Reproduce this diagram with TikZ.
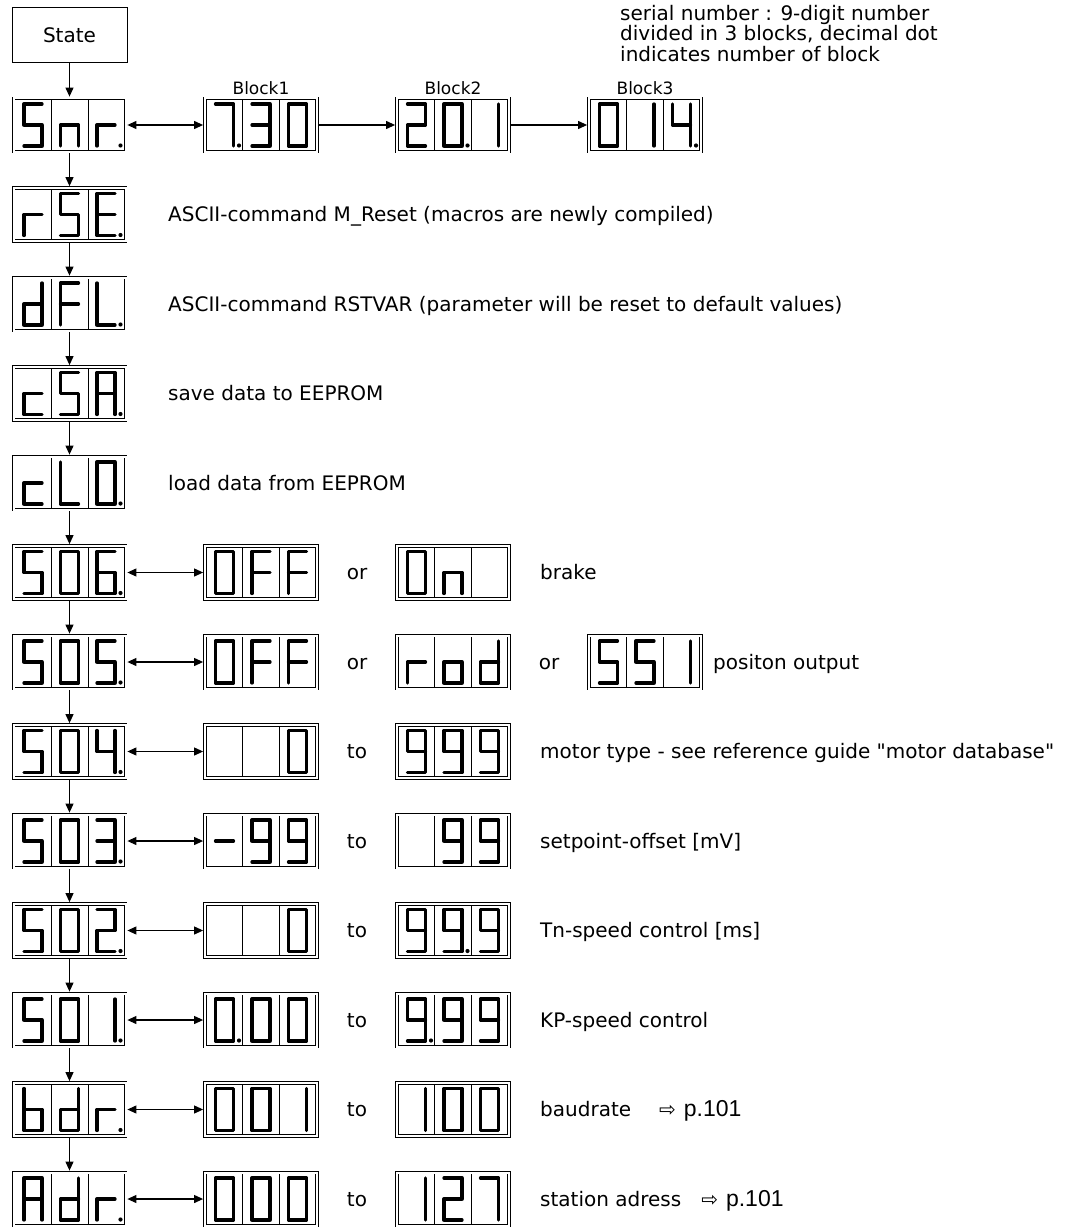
\documentclass[tikz,border=0pt]{standalone}
\usepackage{fontspec}
\setmainfont{DejaVu Sans}
\newfontfamily\reffont{Liberation Sans}
\usetikzlibrary{arrows.meta, positioning, calc}

% digit geometry (1 unit = 1pt, y grows downwards)
\def\dw{9}
\def\dh{21}
\def\cellx{36.5}
\def\divx{18.5}
\def\innerh{24.7}
\def\dotx{14.5}
\def\doty{20.5}

% seven-segment glyphs, drawn round the cell centre
\newcommand{\glNone}{}
\newcommand{\glZero}{\draw[seg] (-\dw,-\dh) rectangle (\dw,\dh);}
\newcommand{\glOne}{\draw[seg] (\dw,-\dh) -- (\dw,\dh);}
\newcommand{\glTwo}{\draw[seg] (-\dw,-\dh) -- (\dw,-\dh) -- (\dw,0) -- (-\dw,0) -- (-\dw,\dh) -- (\dw,\dh);}
\newcommand{\glThree}{\draw[seg] (-\dw,-\dh) -- (\dw,-\dh) -- (\dw,\dh) -- (-\dw,\dh) (-\dw,0) -- (\dw,0);}
\newcommand{\glFour}{\draw[seg] (-\dw,-\dh) -- (-\dw,0) -- (\dw,0) (\dw,-\dh) -- (\dw,\dh);}
\newcommand{\glFive}{\draw[seg] (\dw,-\dh) -- (-\dw,-\dh) -- (-\dw,0) -- (\dw,0) -- (\dw,\dh) -- (-\dw,\dh);}
\newcommand{\glSix}{\draw[seg] (\dw,-\dh) -- (-\dw,-\dh) -- (-\dw,\dh) -- (\dw,\dh) -- (\dw,0) -- (-\dw,0);}
\newcommand{\glSeven}{\draw[seg] (-\dw,-\dh) -- (\dw,-\dh) -- (\dw,\dh);}
\newcommand{\glNine}{\draw[seg] (\dw,0) -- (-\dw,0) -- (-\dw,-\dh) -- (\dw,-\dh) -- (\dw,\dh) -- (-\dw,\dh);}
\newcommand{\glA}{\draw[seg] (-\dw,\dh) -- (-\dw,-\dh) -- (\dw,-\dh) -- (\dw,\dh) (-\dw,0) -- (\dw,0);}
\newcommand{\glb}{\draw[seg] (-\dw,-\dh) -- (-\dw,\dh) -- (\dw,\dh) -- (\dw,0) -- (-\dw,0);}
\newcommand{\glc}{\draw[seg] (\dw,0) -- (-\dw,0) -- (-\dw,\dh) -- (\dw,\dh);}
\newcommand{\gld}{\draw[seg] (\dw,-\dh) -- (\dw,\dh) -- (-\dw,\dh) -- (-\dw,0) -- (\dw,0);}
\newcommand{\glE}{\draw[seg] (\dw,-\dh) -- (-\dw,-\dh) -- (-\dw,\dh) -- (\dw,\dh) (-\dw,0) -- (\dw,0);}
\newcommand{\glF}{\draw[seg] (\dw,-\dh) -- (-\dw,-\dh) -- (-\dw,\dh) (-\dw,0) -- (\dw,0);}
\newcommand{\glL}{\draw[seg] (-\dw,-\dh) -- (-\dw,\dh) -- (\dw,\dh);}
\newcommand{\gln}{\draw[seg] (-\dw,\dh) -- (-\dw,0) -- (\dw,0) -- (\dw,\dh);}
\newcommand{\glo}{\draw[seg] (-\dw,0) rectangle (\dw,\dh);}
\newcommand{\glr}{\draw[seg] (-\dw,\dh) -- (-\dw,0) -- (\dw,0);}
\newcommand{\glDash}{\draw[seg] (-\dw,0) -- (\dw,0);}

% three-digit display: name, centre, glyphs, cell with decimal dot (0 = none)
\newcommand{\panel}[6]{%
  \node[panelbox] (#1) at (#2) {};
  \begin{scope}[shift={(#2)}]
    \draw[cellline] (-\divx,-\innerh) -- (-\divx,\innerh)
                    (\divx,-\innerh) -- (\divx,\innerh);
    \begin{scope}[shift={(-\cellx,0)}] #3 \end{scope}
    #4
    \begin{scope}[shift={(\cellx,0)}] #5 \end{scope}
    \ifnum#6>0 \fill ({\cellx*(#6-2)+\dotx},\doty) circle (2.1); \fi
  \end{scope}%
}

\begin{document}
\begin{tikzpicture}[x=1pt, y=-1pt,
    font=\fontsize{20}{24}\selectfont,
    panelbox/.style={draw, double, double distance=2pt, line width=0.9pt,
                     minimum width=112pt, minimum height=53pt,
                     inner sep=0pt, outer sep=1.9pt},
    statebox/.style={draw, line width=1pt, minimum width=115pt,
                     minimum height=55pt, inner sep=0pt},
    seg/.style={line width=3.3pt, line cap=round, line join=round},
    cellline/.style={line width=0.9pt},
    flow/.style={-{Triangle[length=9pt, width=8pt]}, line width=1.1pt},
    link/.style={{Triangle[length=9pt, width=8pt]}-{Triangle[length=9pt, width=8pt]},
                 line width=1.1pt},
    desc/.style={anchor=base west, inner sep=0pt, yshift=-7pt},
    word/.style={anchor=base, inner sep=0pt, yshift=-7pt},
    blocklabel/.style={inner sep=1.5pt, font=\fontsize{17}{20}\selectfont}]

    \useasboundingbox (0,0) rectangle (1091,1228);

    % ==========================================================
    % 1. STATE BOX AND NOTE
    % ==========================================================
    \node[statebox] (state) at (69.5,35.5) {State};
    \node[anchor=north west, align=left, inner sep=0pt,
          font=\fontsize{20}{20.5}\selectfont] (note) at (620,5)
        {serial number : 9-digit number\\
         divided in 3 blocks, decimal dot\\
         indicates number of block};

    % ==========================================================
    % 2. LEFT COLUMN (menu entries)
    % ==========================================================
    \panel{snr}{69.5,125}{\glFive}{\gln}{\glr}{3}
    \panel{rse}{69.5,214.5}{\glr}{\glFive}{\glE}{3}
    \panel{dfl}{69.5,304}{\gld}{\glF}{\glL}{3}
    \panel{csa}{69.5,393.5}{\glc}{\glFive}{\glA}{3}
    \panel{clo}{69.5,483}{\glc}{\glL}{\glZero}{3}
    \panel{p506}{69.5,572.5}{\glFive}{\glZero}{\glSix}{3}
    \panel{p505}{69.5,662}{\glFive}{\glZero}{\glFive}{3}
    \panel{p504}{69.5,751.5}{\glFive}{\glZero}{\glFour}{3}
    \panel{p503}{69.5,841}{\glFive}{\glZero}{\glThree}{3}
    \panel{p502}{69.5,930.5}{\glFive}{\glZero}{\glTwo}{3}
    \panel{p501}{69.5,1020}{\glFive}{\glZero}{\glOne}{3}
    \panel{bdr}{69.5,1109.5}{\glb}{\gld}{\glr}{3}
    \panel{adr}{69.5,1199}{\glA}{\gld}{\glr}{3}

    % ==========================================================
    % 3. VALUE DISPLAYS
    % ==========================================================
    % serial number blocks
    \panel{blk1}{261,125}{\glSeven}{\glThree}{\glZero}{1}
    \panel{blk2}{453,125}{\glTwo}{\glZero}{\glOne}{2}
    \panel{blk3}{645,125}{\glZero}{\glOne}{\glFour}{3}
    \node[blocklabel, above=0pt of blk1] {Block1};
    \node[blocklabel, above=0pt of blk2] {Block2};
    \node[blocklabel, above=0pt of blk3] {Block3};

    % brake
    \panel{off6}{261,572.5}{\glZero}{\glF}{\glF}{0}
    \panel{on6}{453,572.5}{\glZero}{\gln}{\glNone}{0}
    % position output
    \panel{off5}{261,662}{\glZero}{\glF}{\glF}{0}
    \panel{rod5}{453,662}{\glr}{\glo}{\gld}{0}
    \panel{ssi5}{645,662}{\glFive}{\glFive}{\glOne}{0}
    % motor type
    \panel{min4}{261,751.5}{\glNone}{\glNone}{\glZero}{0}
    \panel{max4}{453,751.5}{\glNine}{\glNine}{\glNine}{0}
    % setpoint offset
    \panel{min3}{261,841}{\glDash}{\glNine}{\glNine}{0}
    \panel{max3}{453,841}{\glNone}{\glNine}{\glNine}{0}
    % Tn
    \panel{min2}{261,930.5}{\glNone}{\glNone}{\glZero}{0}
    \panel{max2}{453,930.5}{\glNine}{\glNine}{\glNine}{2}
    % KP
    \panel{min1}{261,1020}{\glZero}{\glZero}{\glZero}{1}
    \panel{max1}{453,1020}{\glNine}{\glNine}{\glNine}{1}
    % baudrate
    \panel{minb}{261,1109.5}{\glZero}{\glZero}{\glOne}{0}
    \panel{maxb}{453,1109.5}{\glOne}{\glZero}{\glZero}{0}
    % station address
    \panel{mina}{261,1199}{\glZero}{\glZero}{\glZero}{0}
    \panel{maxa}{453,1199}{\glOne}{\glTwo}{\glSeven}{0}

    % ==========================================================
    % 4. CONNECTORS
    % ==========================================================
    \draw[flow] (state) -- (snr);
    \draw[flow] (snr) -- (rse);
    \draw[flow] (rse) -- (dfl);
    \draw[flow] (dfl) -- (csa);
    \draw[flow] (csa) -- (clo);
    \draw[flow] (clo) -- (p506);
    \draw[flow] (p506) -- (p505);
    \draw[flow] (p505) -- (p504);
    \draw[flow] (p504) -- (p503);
    \draw[flow] (p503) -- (p502);
    \draw[flow] (p502) -- (p501);
    \draw[flow] (p501) -- (bdr);
    \draw[flow] (bdr) -- (adr);

    \draw[link] (snr) -- (blk1);
    \draw[flow] (blk1) -- (blk2);
    \draw[flow] (blk2) -- (blk3);
    \draw[link] (p506) -- (off6);
    \draw[link] (p505) -- (off5);
    \draw[link] (p504) -- (min4);
    \draw[link] (p503) -- (min3);
    \draw[link] (p502) -- (min2);
    \draw[link] (p501) -- (min1);
    \draw[link] (bdr) -- (minb);
    \draw[link] (adr) -- (mina);

    % ==========================================================
    % 5. TEXTS
    % ==========================================================
    \node[desc] (trse) at (168,214.5) {ASCII-command M\_Reset (macros are newly compiled)};
    \node[desc] (tdfl) at (168,304) {ASCII-command RSTVAR (parameter will be reset to default values)};
    \node[desc] (tcsa) at (168,393.5) {save data to EEPROM};
    \node[desc] (tclo) at (168,483) {load data from EEPROM};

    \node[word] (or6) at (357,572.5) {or};
    \node[word] (or5a) at (357,662) {or};
    \node[word] (or5b) at (549,662) {or};
    \node[word] (to4) at (357,751.5) {to};
    \node[word] (to3) at (357,841) {to};
    \node[word] (to2) at (357,930.5) {to};
    \node[word] (to1) at (357,1020) {to};
    \node[word] (tob) at (357,1109.5) {to};
    \node[word] (toa) at (357,1199) {to};

    \node[desc] (t506) at (540,572.5) {brake};
    \node[desc] (t505) at (713,662) {positon output};
    \node[desc] (t504) at (540,751.5)
        {motor type - see reference guide \textquotedbl motor database\textquotedbl};
    \node[desc] (t503) at (540,841) {setpoint-offset [mV]};
    \node[desc] (t502) at (540,930.5) {Tn-speed control [ms]};
    \node[desc] (t501) at (540,1020) {KP-speed control};
    \node[desc] (tbdr) at (540,1109.5)
        {baudrate\hspace{28pt}⇨\hspace{8pt}{\reffont\fontsize{23}{26}\selectfont p.101}};
    \node[desc] (tadr) at (540,1199)
        {station adress\hspace{20pt}⇨\hspace{8pt}{\reffont\fontsize{23}{26}\selectfont p.101}};

\end{tikzpicture}
\end{document}
